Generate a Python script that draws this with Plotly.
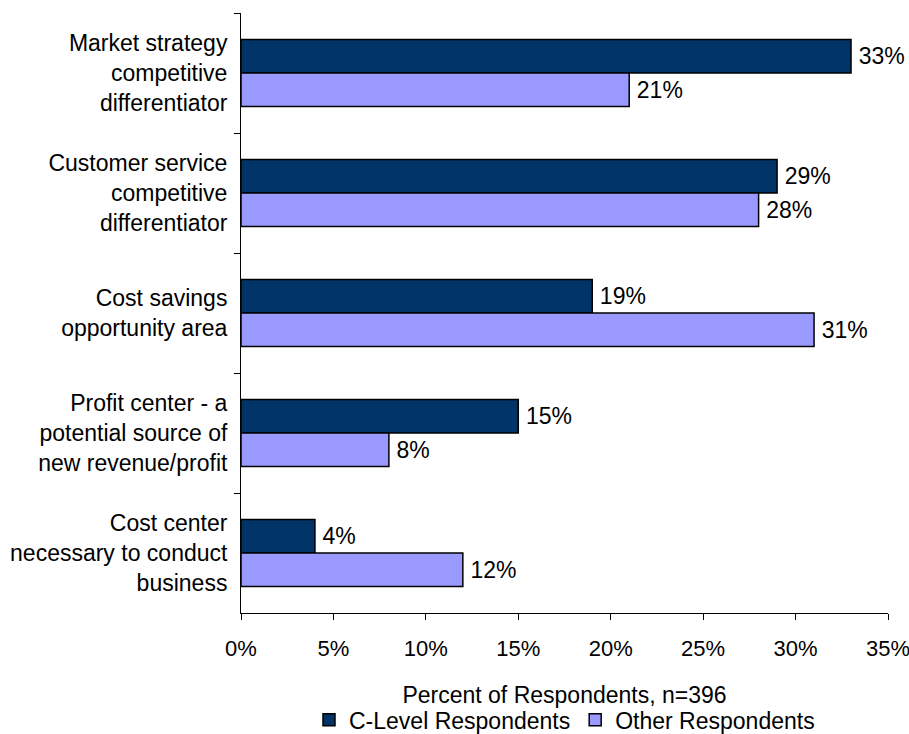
import plotly.graph_objects as go

categories = [
    "Market strategy<br>competitive<br>differentiator",
    "Customer service<br>competitive<br>differentiator",
    "Cost savings<br>opportunity area",
    "Profit center - a<br>potential source of<br>new revenue/profit",
    "Cost center<br>necessary to conduct<br>business",
]
c_level = [33, 29, 19, 15, 4]
other = [21, 28, 31, 8, 12]
x_ticks = [0, 5, 10, 15, 20, 25, 30, 35]
x_tick_labels = [f"{v}%" for v in x_ticks]

font_family = "Liberation Sans, Arial, sans-serif"
fs = 23

fig = go.Figure()
fig.add_trace(go.Bar(
    y=categories, x=c_level, orientation="h", name="C-Level Respondents",
    marker=dict(color="#003366", line=dict(color="black", width=1.5)),
    text=[f"\u2009{v}%" for v in c_level], textposition="outside",
    textfont=dict(color="black", size=fs, family=font_family),
    cliponaxis=False,
))
fig.add_trace(go.Bar(
    y=categories, x=other, orientation="h", name="Other Respondents",
    marker=dict(color="#9999FF", line=dict(color="black", width=1.5)),
    text=[f"\u2009{v}%" for v in other], textposition="outside",
    textfont=dict(color="black", size=fs, family=font_family),
    cliponaxis=False,
))

fig.update_layout(
    width=909, height=734,
    margin=dict(l=241, r=21, t=13, b=121, autoexpand=False),
    paper_bgcolor="white", plot_bgcolor="white",
    barmode="group", bargap=0.44, bargroupgap=0,
    font=dict(family=font_family, size=fs, color="black"),
    showlegend=True,
    legend=dict(orientation="h", x=0.5, xanchor="center", y=-0.178, yanchor="middle",
                font=dict(size=fs), traceorder="normal"),
    xaxis=dict(
        range=[0, 35.0001], tickvals=x_ticks, ticktext=x_tick_labels,
        showgrid=False, zeroline=False, showline=True, linecolor="black", linewidth=1,
        ticks="outside", ticklen=6, tickcolor="black", automargin=False,
        ticklabelstandoff=10, ticklabeloverflow="allow", tickfont=dict(size=22),
        title=dict(text="Percent of Respondents, n=396", font=dict(size=fs), standoff=26),
    ),
    yaxis=dict(
        autorange="reversed", showgrid=False, showline=True, linecolor="black", linewidth=1,
        ticks="outside", ticklen=6, tickcolor="black", tickson="boundaries",
        ticklabelstandoff=8, automargin=False,
    ),
)

fig.write_html("out.html")
